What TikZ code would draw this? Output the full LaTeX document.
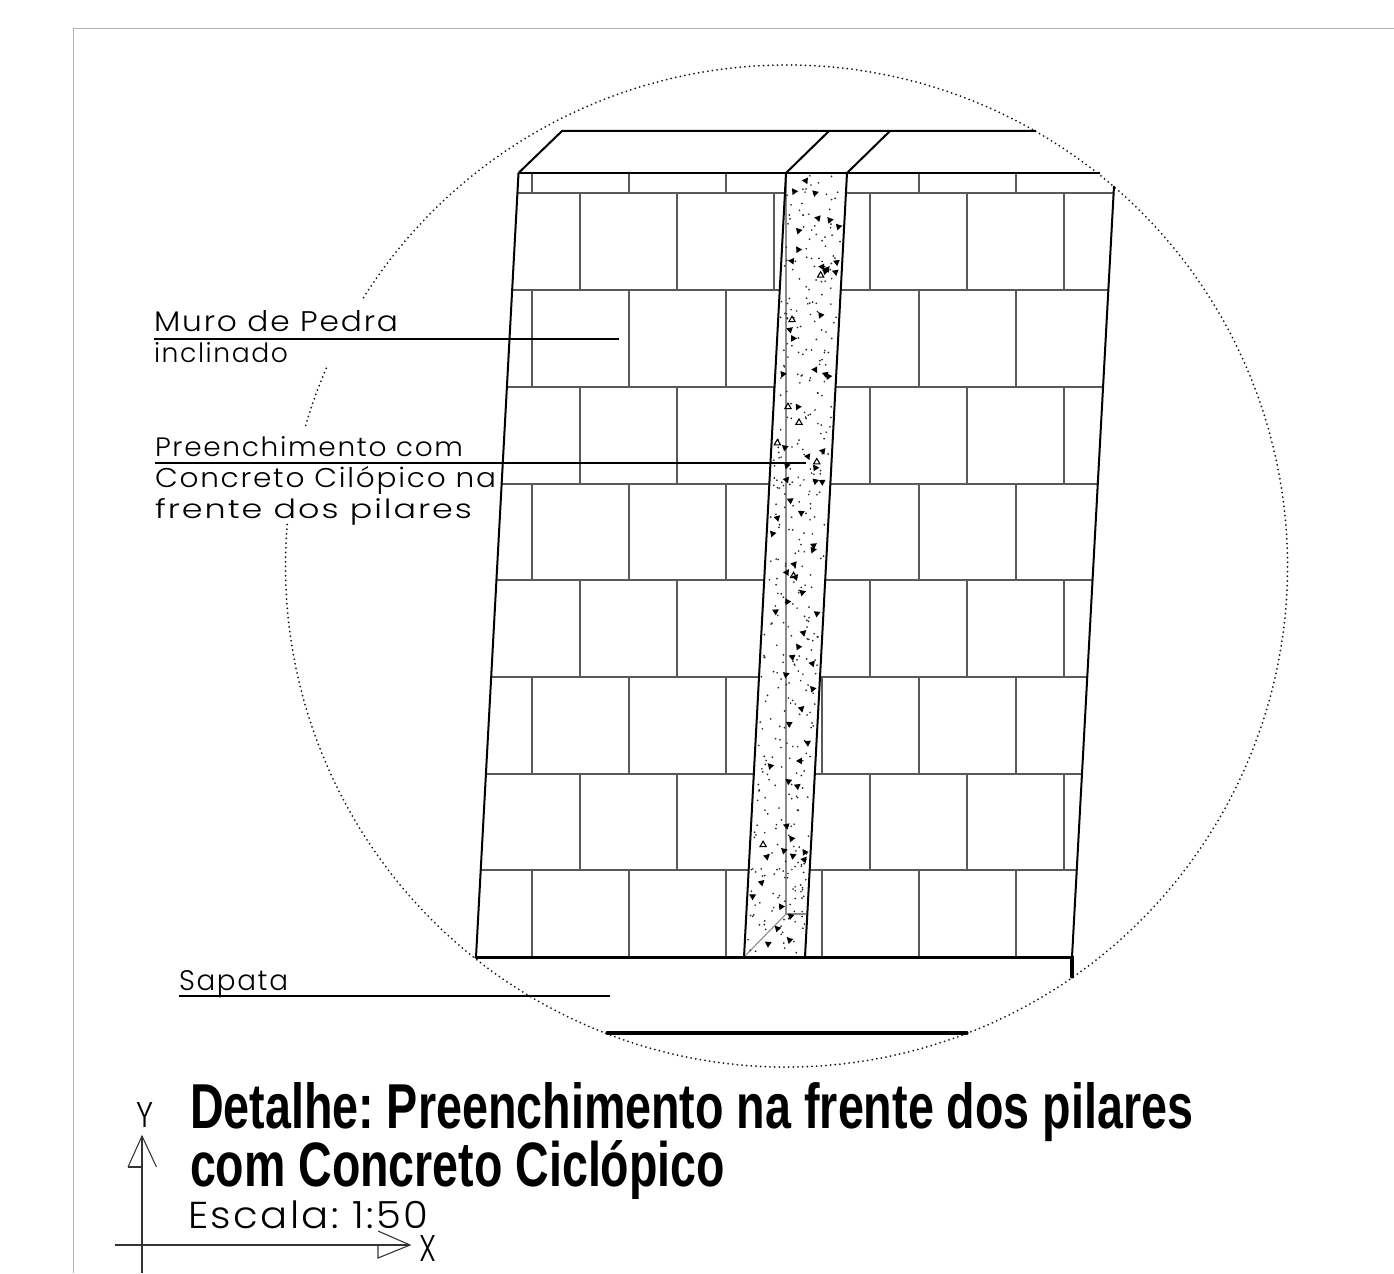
\documentclass[tikz,border=0pt]{standalone}
\usepackage{graphicx}
\usepackage{fontspec}
\setmainfont{Liberation Sans}
\newfontfamily\cadfont[UprightFont=* Light,LetterSpace=6]{Poppins}
\newlength{\pxu}\setlength{\pxu}{0.75pt}
\newcommand{\fitbox}[3]{\resizebox{#1\pxu}{#2\pxu}{\frenchspacing #3}}
\newcommand{\cadt}[3]{\resizebox{#1\pxu}{#2\pxu}{\frenchspacing\cadfont #3}}
\tikzset{
  wall/.style={line width=1.5pt,black},
  joint/.style={line width=0.9pt,black!65},
  heavy/.style={line width=2.3pt,black,line cap=round},
  inner/.style={line width=0.8pt,black!45},
  leader/.style={line width=1pt,black},
  dots/.style={line width=1.5pt,black!90,line cap=round,dash pattern=on 0pt off 3.5pt},
  ucs/.style={line width=0.8pt,black!80},
  frame/.style={line width=0.6pt,black!30},
  lbl/.style={anchor=base west,inner sep=0pt,outer sep=0pt},
}
\begin{document}
\begin{tikzpicture}[x=0.75pt,y=-0.75pt]
\useasboundingbox (0,0) rectangle (1394,1273);
\fill[white] (0,0) rectangle (1394,1273);
\begin{scope}
\clip (0,0) rectangle (1394,1273);
% sheet frame
\draw[frame] (73,1273) -- (73,28) -- (1394,28);
% dotted detail circle
\coordinate (cc) at (786.5,566);
\draw[dots] ([shift={(-60.2:501)}]cc) arc[start angle=-60.2,end angle=185,radius=501];
\draw[dots] ([shift={(196.3:501)}]cc) arc[start angle=196.3,end angle=203.4,radius=501];
\draw[dots] ([shift={(212.4:501)}]cc) arc[start angle=212.4,end angle=299.8,radius=501];
% courses
\foreach \yy/\xl/\xr in {193/517.4/1114,290/512.1/1108.6,387/506.9/1103.3,484/501.6/1098,580/496.4/1092.7,677/491.2/1087.4,774/485.9/1082,870/480.8/1076.8}
  \draw[joint] (\xl,\yy) -- (\xr,\yy);
% joints, even rows
\foreach \ya/\yb in {173/193,290/387,484/580,677/774,870/957}
  \foreach \xx in {532,629,726,822,919,1016}
    \draw[joint] (\xx,\ya) -- (\xx,\yb);
% joints, odd rows
\foreach \ya/\yb in {193/290,387/484,580/677,774/870}
  \foreach \xx in {580,677,774,870,967,1064}
    \draw[joint] (\xx,\ya) -- (\xx,\yb);
% column
\fill[white] (786,173) -- (847,173) -- (805,957) -- (744,957) -- cycle;
% inner arris of the column
\draw[inner] (786,173) -- (786,914) -- (806,914);
\draw[inner] (786,914) -- (744,957);
% concrete speckle
\pgfmathsetseed{9031}
\foreach \i in {1,...,430}{
  \pgfmathsetmacro{\py}{175+rnd*780}
  \pgfmathsetmacro{\pu}{2+rnd*57}
  \pgfmathsetmacro{\px}{786-(\py-173)*0.05357+\pu}
  \fill[black!85] (\px,\py) circle[radius=0.95];
}
\foreach \i in {1,...,70}{
  \pgfmathsetmacro{\py}{178+rnd*772}
  \pgfmathsetmacro{\pu}{5+rnd*51}
  \pgfmathsetmacro{\px}{786-(\py-173)*0.05357+\pu}
  \pgfmathsetmacro{\pa}{90+(rnd-0.5)*60}
  \fill[black] ([shift={(\pa:3.9)}]\px,\py) -- ([shift={(\pa+120:3.9)}]\px,\py) -- ([shift={(\pa+240:3.9)}]\px,\py) -- cycle;
}
\foreach \i in {1,...,8}{
  \pgfmathsetmacro{\py}{178+rnd*772}
  \pgfmathsetmacro{\pu}{5+rnd*51}
  \pgfmathsetmacro{\px}{786-(\py-173)*0.05357+\pu}
  \draw[line width=0.8pt,black] ([shift={(-90:3.6)}]\px,\py) -- ([shift={(30:3.6)}]\px,\py) -- ([shift={(150:3.6)}]\px,\py) -- cycle;
}
\draw[wall] (786,173) -- (744,957);
\draw[wall] (847,173) -- (805,957);
% wall outline and cap
\draw[wall] (518.5,173) -- (476,957);
\draw[wall] (1114,186) -- (1072,957);
\draw[wall] (518.5,173) -- (1100,173);
\draw[wall] (518.5,173) -- (562,131) -- (1036,131);
\draw[wall] (786,173) -- (829,131);
\draw[wall] (847,173) -- (890,131);
% footing
\draw[heavy] (476,957.5) -- (1072,957.5) -- (1072,977);
\draw[heavy] (607,1033) -- (967,1033);
% labels and leaders
\coordinate (muroa) at (154,339);
\coordinate (murob) at (619,339);
\draw[leader] (muroa) -- (murob);
\coordinate (prea) at (155,463);
\coordinate (preb) at (806,463);
\draw[leader] (prea) -- (preb);
\coordinate (sapa) at (179,996);
\coordinate (sapb) at (610,996);
\draw[leader] (sapa) -- (sapb);
\node[lbl] (t1) at (154,331) {\cadt{244}{21}{Muro de Pedra}};
\node[lbl] (t2) at (154,362.8) {\cadt{134}{20}{inclinado}};
\node[lbl] (t3) at (155,456.2) {\cadt{308}{20}{Preenchimento com}};
\node[lbl] (t4) at (155,487.8) {\cadt{341}{21}{Concreto Cilópico na}};
\node[lbl] (t5) at (155,518.5) {\cadt{317}{20}{frente dos pilares}};
\node[lbl] (t6) at (179,990.5) {\cadt{109}{20}{Sapata}};
\node[lbl] (t7) at (188,1228.5) {\cadt{240}{27.7}{Escala: 1:50}};
\node[lbl] (t8) at (190,1128.5) {\fitbox{1003}{46}{\bfseries Detalhe: Preenchimento na frente dos pilares}};
\node[lbl] (t9) at (190,1186) {\fitbox{535}{46}{\bfseries com Concreto Ciclópico}};
% UCS icon
\coordinate (yb) at (142,1273);
\coordinate (yt) at (142,1136);
\coordinate (xl) at (115,1245);
\coordinate (xr) at (410,1245);
\draw[ucs] (yb) -- (yt);
\draw[ucs] (128,1167) -- (yt) -- (156.5,1167);
\draw[ucs] (128,1167) -- (142,1167);
\draw[ucs] (xl) -- (xr);
\draw[ucs] (378,1231) -- (xr) -- (378,1258) -- (378,1245);
\node[lbl] (ly) at (136,1127) {\cadt{17}{25}{Y}};
\node[lbl] (lx) at (419,1261) {\cadt{17}{26}{X}};
\end{scope}
\end{tikzpicture}
\end{document}
